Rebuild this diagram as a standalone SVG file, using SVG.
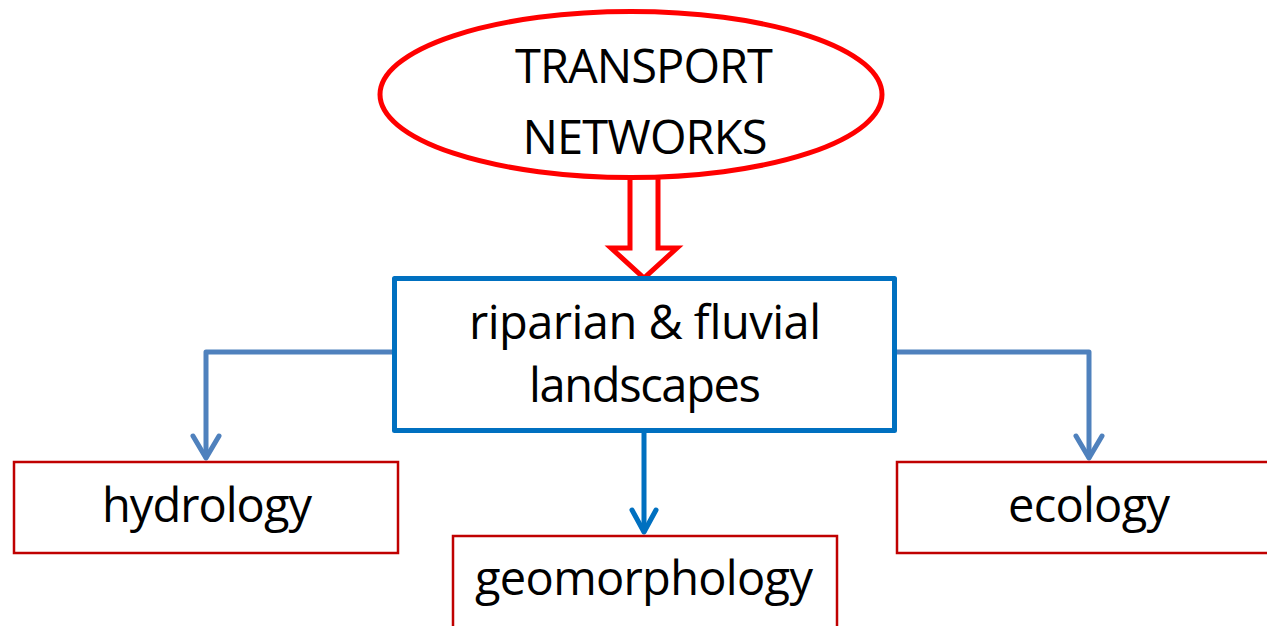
<svg xmlns="http://www.w3.org/2000/svg" width="1267" height="626" viewBox="0 0 1267 626">
<style>
text{font-family:"Open Sans","Noto Sans","Liberation Sans",sans-serif;fill:#000;text-anchor:middle}
.big{font-size:47px}
.leaf{fill:#fff;stroke:#C00000;stroke-width:2.5}
.conn{fill:none;stroke:#4F81BD;stroke-width:5;stroke-linejoin:round;stroke-linecap:round}
.conn2{fill:none;stroke:#0070C0;stroke-width:5;stroke-linejoin:round;stroke-linecap:round}
</style>
<rect width="1267" height="626" fill="#fff"/>
<g id="connectors">
<path class="conn" d="M394,352 H206 V457"/>
<path class="conn" d="M193,436 L206,458 L219,436"/>
<path class="conn" d="M895,352 H1089 V457"/>
<path class="conn" d="M1076,436 L1089,458 L1102,436"/>
<path class="conn2" d="M644,431 V531"/>
<path class="conn2" d="M632,510 L644,532 L656,510"/>
<polyline id="hollow-arrow" points="630,176 630,248 611,248 644,278 677,248 658,248 658,176" fill="#fff" stroke="#FF0000" stroke-width="5" stroke-linejoin="miter"/>
</g>
<g id="transport">
<ellipse cx="631" cy="94.5" rx="251" ry="83" fill="#fff" stroke="#FF0000" stroke-width="5"/>
<text class="big" x="644" y="83" textLength="258">TRANSPORT</text>
<text class="big" x="645" y="154" textLength="245">NETWORKS</text>
</g>
<g id="riparian">
<rect x="394.5" y="278.5" width="500" height="152" fill="#fff" stroke="#0070C0" stroke-width="5" stroke-linejoin="round"/>
<text class="big" x="645" y="339" textLength="352">riparian &amp; fluvial</text>
<text class="big" x="645" y="402" textLength="232">landscapes</text>
</g>
<g id="hydrology">
<rect class="leaf" x="14" y="462" width="384" height="91"/>
<text class="big" x="207" y="522" textLength="210">hydrology</text>
</g>
<g id="ecology">
<rect class="leaf" x="897" y="462" width="380" height="91"/>
<text class="big" x="1089" y="522" textLength="162">ecology</text>
</g>
<g id="geomorphology">
<rect class="leaf" x="453" y="536" width="384" height="100"/>
<text class="big" x="644" y="595" textLength="338">geomorphology</text>
</g>
</svg>
